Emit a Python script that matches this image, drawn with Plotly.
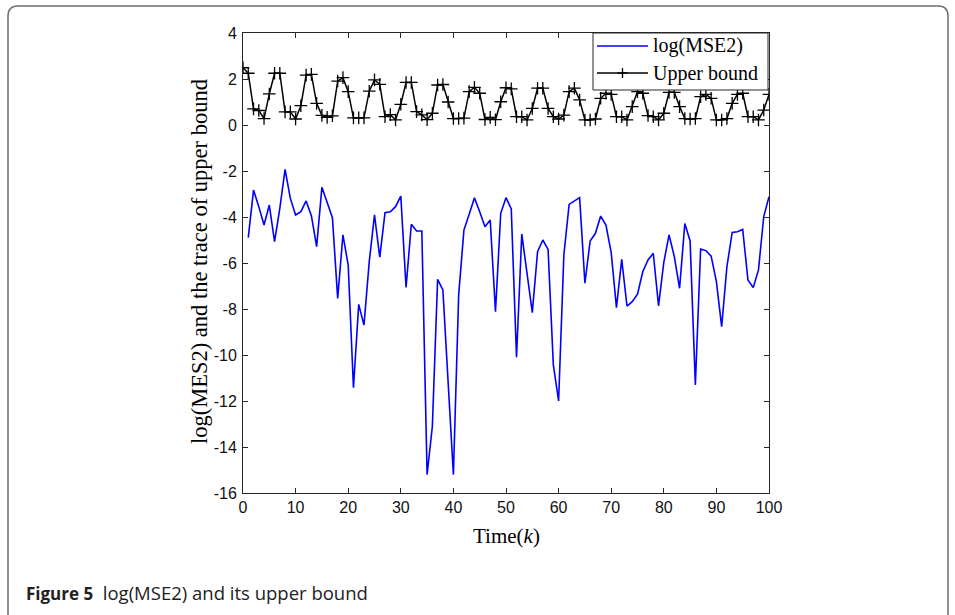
import plotly.graph_objects as go

# ---------------- data ----------------
k_mse = list(range(1, 101))
log_mse2 = [
    -4.90, -2.83, -3.55, -4.35, -3.48, -5.07, -3.62, -1.93, -3.19, -3.91,
    -3.77, -3.30, -3.94, -5.29, -2.71, -3.33, -4.03, -7.54, -4.78, -6.09,
    -11.42, -7.80, -8.70, -5.94, -3.91, -5.75, -3.81, -3.77, -3.55, -3.09,
    -7.06, -4.32, -4.61, -4.61, -15.20, -13.10, -6.71, -7.17, -11.00, -15.20,
    -7.39, -4.57, -3.88, -3.16, -3.77, -4.42, -4.13, -8.12, -3.84, -3.16,
    -3.65, -10.10, -4.74, -6.45, -8.16, -5.51, -5.00, -5.41, -10.43, -12.00,
    -5.65, -3.45, -3.30, -3.16, -6.88, -5.04, -4.71, -3.96, -4.35, -5.55,
    -7.94, -5.84, -7.87, -7.68, -7.36, -6.38, -5.87, -5.58, -7.86, -5.97,
    -4.78, -5.72, -7.10, -4.28, -5.04, -11.30, -5.39, -5.46, -5.70, -6.81,
    -8.77, -6.16, -4.67, -4.64, -4.54, -6.74, -7.07, -6.30, -3.98, -3.12,
]
k_ub = list(range(0, 101))
upper_bound = [
    2.49, 2.25, 0.70, 0.63, 0.28, 1.35, 2.25, 2.25, 0.57, 0.57,
    0.26, 0.84, 2.17, 2.20, 0.94, 0.42, 0.33, 0.40, 1.91, 2.06,
    1.45, 0.31, 0.31, 0.31, 1.47, 1.96, 1.77, 0.36, 0.45, 0.22,
    0.90, 1.85, 1.85, 0.58, 0.44, 0.23, 0.51, 1.74, 1.76, 1.00,
    0.28, 0.28, 0.30, 1.45, 1.64, 1.38, 0.24, 0.33, 0.23, 1.01,
    1.62, 1.57, 0.36, 0.36, 0.22, 0.72, 1.60, 1.60, 0.72, 0.36,
    0.26, 0.43, 1.45, 1.60, 1.09, 0.22, 0.22, 0.26, 1.16, 1.38,
    1.33, 0.36, 0.36, 0.22, 0.80, 1.45, 1.38, 0.41, 0.36, 0.22,
    0.51, 1.42, 1.42, 0.80, 0.28, 0.26, 0.28, 1.23, 1.33, 1.16,
    0.22, 0.22, 0.28, 0.94, 1.33, 1.38, 0.36, 0.36, 0.22, 0.65,
    1.33,
]
series_names = ["log(MSE2)", "Upper bound"]
series_colors = ["#0000FF", "black"]
x_tick_vals = [0, 10, 20, 30, 40, 50, 60, 70, 80, 90, 100]
x_tick_text = ["0", "10", "20", "30", "40", "50", "60", "70", "80", "90", "100"]
y_tick_vals = [4, 2, 0, -2, -4, -6, -8, -10, -12, -14, -16]
y_tick_text = ["4", "2", "0", "-2", "-4", "-6", "-8", "-10", "-12", "-14", "-16"]

# ---------------- layout geometry ----------------
W, H = 955, 615
L, R, T, B = 243, 769, 33, 493
pw, ph = R - L, B - T


def px(x):
    return (x - L) / pw


def py(y):
    return (B - y) / ph


fig = go.Figure()
fig.add_trace(go.Scatter(
    x=k_mse, y=log_mse2, mode="lines", name=series_names[0],
    line=dict(color=series_colors[0], width=1.6), showlegend=False,
))
fig.add_trace(go.Scatter(
    x=k_ub, y=upper_bound, mode="lines+markers", name=series_names[1],
    line=dict(color=series_colors[1], width=1.5), showlegend=False,
    marker=dict(symbol="cross-thin", size=9, line=dict(color="black", width=1.3)),
))

axis_common = dict(
    showgrid=False, zeroline=False, showline=True, linecolor="#262626",
    linewidth=1, mirror="ticks", ticks="inside", ticklen=5, tickcolor="#262626",
    tickfont=dict(family="Liberation Sans, Arial", size=16, color="#111111"),
)
fig.update_xaxes(range=[0, 100], tickvals=x_tick_vals, ticktext=x_tick_text,
                 **axis_common)
fig.update_yaxes(range=[-16, 4], tickvals=y_tick_vals, ticktext=y_tick_text,
                 ticklabelstandoff=2, **axis_common)

serif = "Liberation Serif, Times New Roman, serif"

# card border (rounded top corners, sides run off the bottom)
xl, xr, yt, yb = 8, 948, 6, 640
rad = 10
path = (f"M {px(xl)},{py(yb)} L {px(xl)},{py(yt + rad)} "
        f"Q {px(xl)},{py(yt)} {px(xl + rad)},{py(yt)} "
        f"L {px(xr - rad)},{py(yt)} Q {px(xr)},{py(yt)} {px(xr)},{py(yt + rad)} "
        f"L {px(xr)},{py(yb)}")

shapes = [dict(type="path", path=path, xref="paper", yref="paper",
               line=dict(color="#6e6e6e", width=1.5), layer="below")]

# legend box drawn by hand (MATLAB-style long line samples)
lg_x0, lg_x1, lg_y0, lg_y1 = 593, 768, 33, 90
shapes.append(dict(type="rect", xref="paper", yref="paper",
                   x0=px(lg_x0), x1=px(lg_x1), y0=py(lg_y1), y1=py(lg_y0),
                   fillcolor="white", line=dict(color="#262626", width=1),
                   layer="above"))
row_y = [46, 73]
for i, yy in enumerate(row_y):
    shapes.append(dict(type="line", xref="paper", yref="paper",
                       x0=px(597), x1=px(648), y0=py(yy), y1=py(yy),
                       line=dict(color=series_colors[i], width=1.6), layer="above"))
# "+" marker in the Upper bound legend sample
shapes.append(dict(type="line", xref="paper", yref="paper",
                   x0=px(617.5), x1=px(627.5), y0=py(73), y1=py(73),
                   line=dict(color="black", width=1.3), layer="above"))
shapes.append(dict(type="line", xref="paper", yref="paper",
                   x0=px(622.5), x1=px(622.5), y0=py(68), y1=py(78),
                   line=dict(color="black", width=1.3), layer="above"))

annotations = [
    dict(text="Time(<i>k</i>)", x=px(506), y=py(536), xref="paper", yref="paper",
         showarrow=False, xanchor="center", yanchor="middle",
         font=dict(family=serif, size=21, color="black")),
    dict(text="log(MES2) and the trace of upper bound", x=px(199), y=py(262),
         xref="paper", yref="paper", showarrow=False, textangle=-90,
         xanchor="center", yanchor="middle",
         font=dict(family=serif, size=22.5, color="black")),
    dict(text="<span style='font-size:17px'><b>Figure 5</b></span> \u00a0log(MSE2) and its upper bound",
         x=px(24), y=py(592), xref="paper", yref="paper", showarrow=False,
         xanchor="left", yanchor="middle",
         font=dict(family="Open Sans", size=18.5, color="#222222")),
]
for i, yy in enumerate(row_y):
    annotations.append(dict(text=series_names[i], x=px(651), y=py(yy),
                            xref="paper", yref="paper", showarrow=False,
                            xanchor="left", yanchor="middle",
                            font=dict(family=serif, size=20, color="black")))

fig.update_layout(
    width=W, height=H,
    margin=dict(l=L, r=W - R, t=T, b=H - B, pad=0),
    paper_bgcolor="white", plot_bgcolor="white",
    showlegend=False,
    shapes=shapes,
    annotations=annotations,
)

fig.write_html("out.html")
